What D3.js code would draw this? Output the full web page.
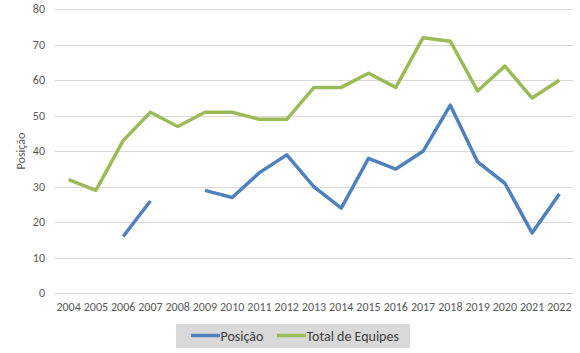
<!DOCTYPE html>
<html>
<head>
<meta charset="utf-8">
<script src="https://cdn.jsdelivr.net/npm/d3@7"></script>
<style>
body { margin: 0; background: #fff; }
text { font-family: Calibri, Carlito, "Liberation Sans", Arial, sans-serif; fill: #595959; }
</style>
</head>
<body>
<script>
var years = ['2004','2005','2006','2007','2008','2009','2010','2011','2012','2013','2014','2015','2016','2017','2018','2019','2020','2021','2022']
var posicao = [null, null, 16, 26, null, 29, 27, 34, 39, 30, 24, 38, 35, 40, 53, 37, 31, 17, 28]
var totalEquipes = [32, 29, 43, 51, 47, 51, 51, 49, 49, 58, 58, 62, 58, 72, 71, 57, 64, 55, 60]
var yTicks = [0, 10, 20, 30, 40, 50, 60, 70, 80]

width = 580
height = 353

svg = d3.select('body')
    .append('svg')
    .attr('width', width)
    .attr('height', height)

var xScale = d3.scaleBand()
    .domain(years)
    .range([55, 573])

var yScale = d3.scaleLinear()
    .domain([0, 80])
    .range([293.3, 9.3])

// gridlines
svg.append('g')
    .selectAll('line')
    .data(yTicks)
    .enter()
    .append('line')
    .attr('x1', 55)
    .attr('x2', 573)
    .attr('y1', d => Math.round(yScale(d)) + 0.5)
    .attr('y2', d => Math.round(yScale(d)) + 0.5)
    .style('stroke', '#d9d9d9')
    .style('stroke-width', 1)

// y tick labels
svg.append('g')
    .selectAll('text')
    .data(yTicks)
    .enter()
    .append('text')
    .text(d => d)
    .attr('x', 45)
    .attr('y', d => yScale(d) + 4)
    .attr('text-anchor', 'end')
    .style('font-size', '12px')

// x tick labels
svg.append('g')
    .selectAll('text')
    .data(years)
    .enter()
    .append('text')
    .text(d => d)
    .attr('x', d => xScale(d) + xScale.bandwidth() / 2)
    .attr('y', 311)
    .attr('text-anchor', 'middle')
    .style('font-size', '12px')

// y axis title
svg.append('text')
    .text('Posição')
    .attr('transform', 'translate(25,151) rotate(-90)')
    .attr('text-anchor', 'middle')
    .style('font-size', '12px')

var line = d3.line()
    .defined(d => d != null)
    .x((d, i) => xScale(years[i]) + xScale.bandwidth() / 2)
    .y(d => yScale(d))

svg.append('path')
    .datum(posicao)
    .attr('d', line)
    .style('fill', 'none')
    .style('stroke', '#4f81bd')
    .style('stroke-width', 3.5)
    .style('stroke-linejoin', 'round')

svg.append('path')
    .datum(totalEquipes)
    .attr('d', line)
    .style('fill', 'none')
    .style('stroke', '#9bbb59')
    .style('stroke-width', 3.5)
    .style('stroke-linejoin', 'round')

// legend
legend = svg.append('g')

legend.append('rect')
    .attr('x', 176)
    .attr('y', 324)
    .attr('width', 234)
    .attr('height', 24)
    .style('fill', '#d9d9d9')

var legendItems = [
    {name: 'Posição', color: '#4f81bd', x: 191},
    {name: 'Total de Equipes', color: '#9bbb59', x: 277}
]

legend.selectAll('line')
    .data(legendItems)
    .enter()
    .append('line')
    .attr('x1', d => d.x)
    .attr('x2', d => d.x + 29)
    .attr('y1', 335.5)
    .attr('y2', 335.5)
    .style('stroke', d => d.color)
    .style('stroke-width', 3.5)

legend.selectAll('text')
    .data(legendItems)
    .enter()
    .append('text')
    .text(d => d.name)
    .attr('x', d => d.x + 29.5)
    .attr('y', 340.5)
    .style('font-size', '14px')
    .style('fill', '#404040')
</script>
</body>
</html>
